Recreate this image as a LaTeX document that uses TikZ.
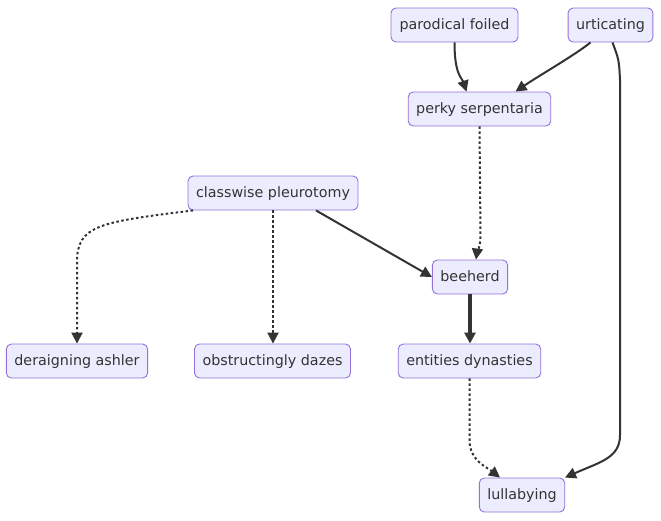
\documentclass[tikz,border=0pt]{standalone}
\usepackage{fontspec}
\setmainfont{DejaVu Sans}
\usetikzlibrary{arrows.meta}
\definecolor{nodefill}{HTML}{ECECFF}
\definecolor{nodeline}{HTML}{9370DB}
\definecolor{ink}{HTML}{333333}
\begin{document}
\begin{tikzpicture}[x=1pt,y=-1pt,
  box/.style={draw=nodeline,fill=nodefill,line width=0.9pt,rounded corners=5pt,
    minimum height=34pt,inner xsep=8pt,inner ysep=0pt,text=ink,
    text height=10.5pt,text depth=2.5pt,
    font=\fontsize{14.3pt}{16pt}\selectfont},
  edge/.style={draw=ink,line width=2pt,-{Triangle[length=11pt,width=11pt]}},
  dotedge/.style={edge,line width=2pt,dash pattern=on 2.5pt off 2.5pt},
  thickedge/.style={edge,line width=3.2pt}]
\useasboundingbox (0,0) rectangle (661,520);
\node[box,minimum width=127pt] (par) at (454.5,25) {parodical foiled};
\node[box,minimum width=83pt] (urt) at (610.5,25) {urticating};
\node[box,minimum width=141pt] (per) at (479.5,109) {perky serpentaria};
\node[box,minimum width=169pt] (cla) at (273,193) {classwise pleurotomy};
\node[box,minimum width=74pt] (bee) at (470,277) {beeherd};
\node[box,minimum width=138pt] (der) at (77,361) {deraigning ashler};
\node[box,minimum width=153pt] (obs) at (272.5,361) {obstructingly dazes};
\node[box,minimum width=141pt] (ent) at (469.5,361) {entities dynasties};
\node[box,minimum width=84pt] (lul) at (522,495) {lullabying};

\draw[edge] (par.south) .. controls (454.5,75) and (462,78) .. ([xshift=-13pt]per.north);
\draw[edge] ([xshift=-20pt]urt.south) .. controls (575,55) and (540,75) .. ([xshift=36pt]per.north);
\draw[edge] ([xshift=2pt]urt.south) .. controls (619,60) .. (620,80) -- (620,435) .. controls (620,458) and (600,462) .. ([xshift=43pt]lul.north);
\draw[dotedge] (per.south) -- (480.5,235) .. controls (480.5,248) and (477,252) .. ([xshift=6pt]bee.north);
\draw[edge] ([xshift=43pt]cla.south) -- (bee.west);
\draw[dotedge] ([xshift=-80pt]cla.south) .. controls (100,222) and (77,225) .. (77,262) -- (der.north);
\draw[dotedge] (cla.south) -- (obs.north -| cla.south);
\draw[thickedge] (bee.south) -- (ent.north -| bee.south);
\draw[dotedge] (ent.south) -- (469.5,440) .. controls (469.5,460) and (485,466) .. ([xshift=-22pt]lul.north);
\end{tikzpicture}
\end{document}
